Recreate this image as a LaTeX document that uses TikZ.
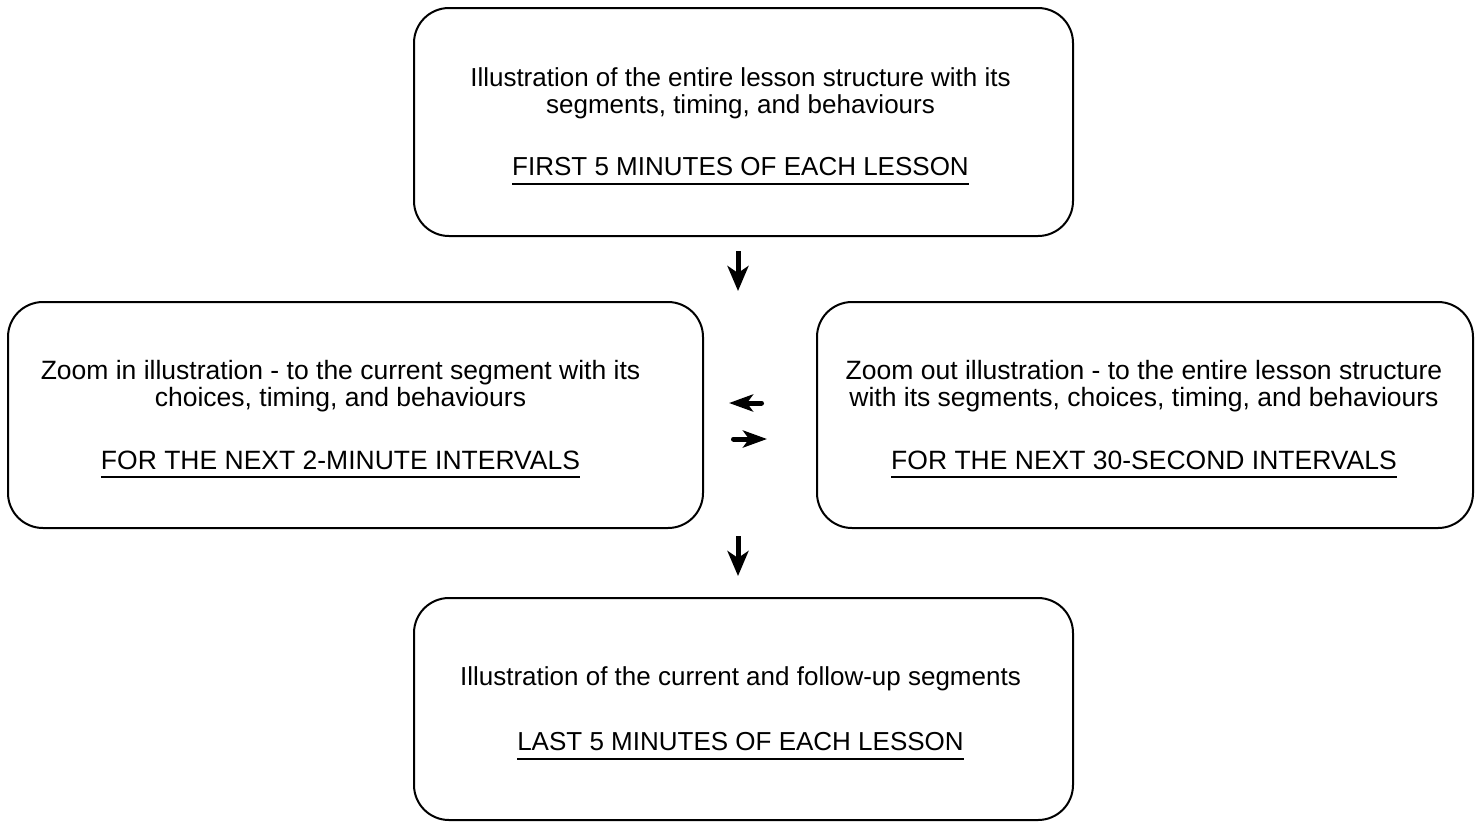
\documentclass[tikz,border=0pt]{standalone}
\usepackage{fontspec}
\setmainfont{Liberation Sans}
\usetikzlibrary{arrows.meta}
\newcommand\myul[1]{\setbox0\hbox{#1}\rlap{\smash{\rule[-9pt]{\wd0}{2pt}}}\box0}
\begin{document}
\begin{tikzpicture}[x=1pt,y=-1pt,
  box/.style={draw, line width=2pt, rounded corners=35pt, inner sep=0pt},
  boxtext/.style={align=center, inner sep=0pt},
  smalltext/.style={font=\fontsize{26}{27}\selectfont},
  largetext/.style={font=\fontsize{26.5}{27}\selectfont},
  bigarrow/.style={line width=5pt, -{Stealth[length=25pt,width=21pt,inset=7pt]}},
  smallarrow/.style={line width=5pt, line cap=round, -{Stealth[length=24pt,width=17pt,inset=6pt]}}]
\useasboundingbox (0,0) rectangle (1481,823);
% boxes
\node[box, minimum width=659pt, minimum height=228pt] (top) at (743.5,122) {};
\node[box, minimum width=695pt, minimum height=226pt] (left) at (355.5,415) {};
\node[box, minimum width=656pt, minimum height=226pt] (right) at (1145,415) {};
\node[box, minimum width=659pt, minimum height=222pt] (bottom) at (743.5,709) {};
% texts
\node[boxtext, smalltext] (toptext) at ([xshift=-3pt]top.center)
  {Illustration of the entire lesson structure with its\\
   segments, timing, and behaviours\\[35pt]
   \myul{FIRST 5 MINUTES OF EACH LESSON}};
\node[boxtext, largetext] (lefttext) at ([xshift=-15pt]left.center)
  {Zoom in illustration - to the current segment with its\\
   choices, timing, and behaviours\\[36pt]
   \myul{FOR THE NEXT 2-MINUTE INTERVALS}};
\node[boxtext, largetext] (righttext) at ([xshift=-1pt]right.center)
  {Zoom out illustration - to the entire lesson structure\\
   with its segments, choices, timing, and behaviours\\[36pt]
   \myul{FOR THE NEXT 30-SECOND INTERVALS}};
\node[boxtext, smalltext] (bottomtext) at ([xshift=-3pt]bottom.center)
  {Illustration of the current and follow-up segments\\[38pt]
   \myul{LAST 5 MINUTES OF EACH LESSON}};
% arrows
\draw[bigarrow, shorten <=14pt, shorten >=10pt]
  ([xshift=-5.5pt]top.south) -- ([xshift=-5.5pt]top.south |- left.north);
\draw[bigarrow, shorten <=7pt, shorten >=21pt]
  ([xshift=-5.5pt]bottom.north |- left.south) -- ([xshift=-5.5pt]bottom.north);
\draw[smallarrow, shorten <=54.5pt, shorten >=25pt]
  ([yshift=12pt]right.west) -- ([yshift=12pt]left.east);
\draw[smallarrow, shorten <=29.5pt, shorten >=49pt]
  ([yshift=-24pt]left.east) -- ([yshift=-24pt]right.west);
\end{tikzpicture}
\end{document}
